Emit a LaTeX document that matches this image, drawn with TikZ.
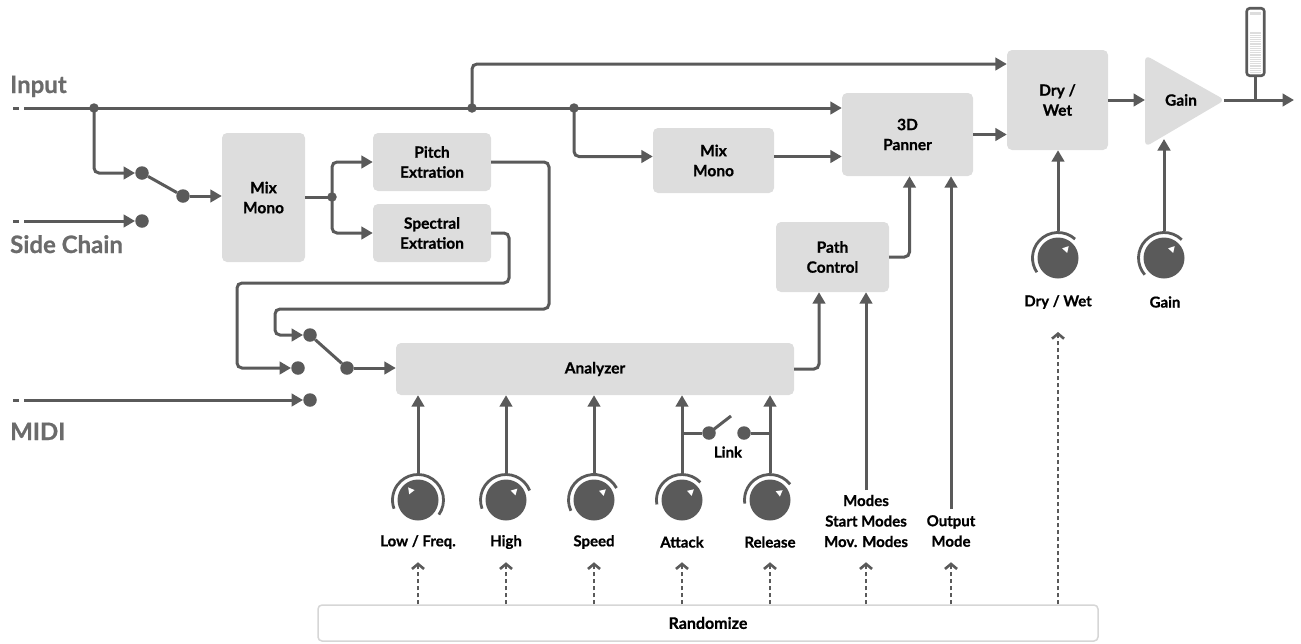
\documentclass[tikz,border=0pt]{standalone}
\usepackage{fontspec}
\setmainfont{Lato}[BoldFeatures={FakeBold=0.8}]
\usetikzlibrary{arrows.meta,calc}
\definecolor{ln}{HTML}{5A5A5A}
\definecolor{bx}{HTML}{DDDDDD}
\definecolor{lbl}{HTML}{6B6B6B}
\definecolor{rb}{HTML}{D6D6D6}
% name, x, y, arc right end (visual deg), arc left end, indicator angle
\newcommand\knobat[6]{%
  \node[knob] (#1) at (#2,#3) {};
  \coordinate (#1-top) at (#2,{#3-27});
  \draw[ln, line width=2.8pt] (#1.center) ++({-(#4)}:25.5) arc[start angle={-(#4)}, end angle={-(#5)}, radius=25.5];
  \fill[white] ($(#1.center)+({-(#6)}:16)$) -- ($(#1.center)+({-(#6)+19}:10.5)$) -- ($(#1.center)+({-(#6)-19}:10.5)$) -- cycle;
}
\begin{document}
\begin{tikzpicture}[x=1pt,y=-1pt,
  box/.style={fill=bx, rounded corners=5pt, inner sep=0pt, font=\bfseries\fontsize{15.5}{20}\selectfont, align=center, text=black},
  wire/.style={draw=ln, line width=3pt, rounded corners=5pt},
  arr/.style={wire, -{Triangle[length=11.5pt,width=12.5pt]}},
  sdot/.style={circle, fill=ln, minimum size=13.5pt, inner sep=0pt},
  jdot/.style={circle, fill=ln, minimum size=9.5pt, inner sep=0pt},
  side/.style={font=\bfseries\fontsize{24}{26}\selectfont, text=lbl, anchor=base west, inner sep=0pt},
  klabel/.style={font=\bfseries\fontsize{15}{20.5}\selectfont, align=center, inner sep=0pt},
  knob/.style={circle, fill=ln, minimum size=41pt, inner sep=0pt},
  rndarr/.style={draw=ln, line width=2.6pt, dash pattern=on 4pt off 3pt, -{Straight Barb[length=5pt,width=12pt]}}
]
\useasboundingbox (0,0) rectangle (1301,643);

% ---------- boxes ----------
\node[box, minimum width=83pt, minimum height=129pt] (mix1) at (263.5,197.5) {Mix\\Mono};
\node[box, minimum width=118pt, minimum height=58pt] (pitch) at (432,162) {Pitch\\Extration};
\node[box, minimum width=118pt, minimum height=58pt] (spec) at (432,233) {Spectral\\Extration};
\node[box, minimum width=398pt, minimum height=52pt] (ana) at (595,369) {Analyzer};
\node[box, minimum width=121pt, minimum height=65pt] (mix2) at (713.5,160.5) {Mix\\Mono};
\node[box, minimum width=131pt, minimum height=83pt] (pan) at (907.5,134.5) {3D\\Panner};
\node[box, minimum width=113pt, minimum height=70pt] (path) at (832.5,257) {Path\\Control};
\node[box, minimum width=101pt, minimum height=100pt] (dw) at (1057.5,100) {Dry /\\Wet};
\fill[bx, rounded corners=6pt] (1145,55) -- (1225,100) -- (1145,147) -- cycle;
\node[box, fill=none] (gain) at (1181,100) {Gain};
\coordinate (gainIn) at (1145,100);
\coordinate (gainOut) at (1224,100);
\node[draw=rb, fill=white, line width=1.5pt, rounded corners=4pt, minimum width=780pt, minimum height=36pt, inner sep=0pt, font=\bfseries\fontsize{16}{18}\selectfont] (rnd) at (708,623) {Randomize};

% ---------- meter ----------
\node[draw=ln, fill=white, line width=2.6pt, rounded corners=3pt, minimum width=17.5pt, minimum height=67.5pt, inner sep=0pt] (meter) at (1255.5,42) {};
\fill[bx] (1250,12) rectangle (1261,14.5);
\foreach \yy in {33,35.2,...,73} \draw[bx, line width=1.1pt] (1250,\yy) -- (1261,\yy);

% ---------- side labels ----------
\node[side] (lin) at (10,93) {Input};
\node[side] (lsc) at (10,253) {Side Chain};
\node[side] (lmidi) at (10,440) {MIDI};
\draw[ln, line width=3pt] (13,108) -- (19,108);
\draw[ln, line width=3pt] (13,221) -- (19,221);
\draw[ln, line width=3pt] (13,400) -- (19,400);

% ---------- coordinates ----------
\coordinate (in0) at (24,108);
\coordinate (sc0) at (24,221);
\coordinate (mi0) at (24,400);
\coordinate (jIn) at (94,108);
\coordinate (jTop) at (472,108);
\coordinate (jMix) at (574,108);
\coordinate (jMid) at (332,197);
\coordinate (p1) at (549,309);
\coordinate (p2) at (275,309);
\coordinate (s1) at (509,283);
\coordinate (s2) at (237,283);
\coordinate (out) at (1294,100);

% ---------- switch dots ----------
\node[sdot] (swA) at (142,173) {};
\node[sdot] (swB) at (183,196) {};
\node[sdot] (swC) at (142,221) {};
\node[sdot] (swD) at (310,335) {};
\node[sdot] (swE) at (298,368) {};
\node[sdot] (swF) at (347,368) {};
\node[sdot] (swG) at (310,400) {};
\node[sdot] (swL1) at (709,433) {};
\node[sdot] (swL2) at (744,433) {};
\coordinate (lever) at (731,416);

% ---------- wires ----------
\draw[arr] (in0) -- (in0 -| pan.west);
\draw[arr] (jIn) |- (swA);
\draw[wire] (swA) -- (swB);
\draw[arr] (swB) -- (swB -| mix1.west);
\draw[arr] (sc0) -- (swC);
\draw[wire] (mix1.east |- jMid) -- (jMid);
\draw[arr] (jMid) |- (pitch.west);
\draw[arr] (jMid) |- (spec.west);
\draw[arr] (pitch.east) -| (p1) -- (p2) |- (swD);
\draw[arr] (spec.east) -| (s1) -- (s2) |- (swE);
\draw[wire] (swD) -- (swF);
\draw[arr] (swF) -- (swF -| ana.west);
\draw[arr] (mi0) -- (swG);
\draw[arr] (ana.east) -| ([xshift=-13.5pt]path.south);
\draw[arr] (path.east) -| ([xshift=2pt]pan.south);
\draw[arr] (jMix) |- ([yshift=4pt]mix2.west);
\draw[arr] ([yshift=4pt]mix2.east) -- ([yshift=4pt]mix2.east -| pan.west);
\draw[arr] (jTop) |- ([yshift=36pt]dw.west);
\draw[arr] (pan.east) -- (pan.east -| dw.west);
\draw[arr] (dw.east) -- (gainIn);
\draw[arr] (gainOut) -- (out);
\draw[wire] (meter.south) -- (meter.south |- gainOut);

% ---------- knobs ----------
\knobat{klow}{418}{500}{-35}{200}{128}
\knobat{khigh}{506}{500}{22}{200}{45}
\knobat{kspeed}{594}{500}{28}{205}{42}
\knobat{katt}{682}{500}{44}{190}{42}
\knobat{krel}{770}{500}{38}{188}{38}
\knobat{kdw}{1058}{258}{48}{214}{48}
\knobat{kgain}{1164}{258}{46}{221}{48}

\draw[arr] (klow-top) -- (klow-top |- ana.south);
\draw[arr] (khigh-top) -- (khigh-top |- ana.south);
\draw[arr] (kspeed-top) -- (kspeed-top |- ana.south);
\draw[arr] (katt-top) -- (katt-top |- ana.south);
\draw[arr] (krel-top) -- (krel-top |- ana.south);
\draw[arr] (kdw-top) -- (kdw-top |- dw.south);
\draw[arr] (kgain-top) -- (1164,139);

% link
\draw[wire] (katt-top |- swL1) -- (swL1);
\draw[wire] (swL1.center) -- (lever);
\draw[wire] (swL2) -- (krel-top |- swL2);
\node[klabel] (llink) at (728,452) {Link};

% modes
\node[klabel] (lmodes) at (866,521) {Modes\\Start Modes\\Mov. Modes};
\node[klabel] (lout) at (951,531) {Output\\Mode};
\coordinate (modesTop) at (866,490);
\coordinate (omTop) at (951,509);
\draw[arr] (modesTop) -- (modesTop |- path.south);
\draw[arr] (omTop) -- (omTop |- pan.south);

% knob labels
\node[klabel] (llow) at (418,542) {Low / Freq.};
\node[klabel] (lhigh) at (506,542) {High};
\node[klabel] (lspeed) at (594,542) {Speed};
\node[klabel] (latt) at (682,542) {Attack};
\node[klabel] (lrel) at (770,542) {Release};
\node[klabel] (ldw) at (1058,302) {Dry / Wet};
\node[klabel] (lgain) at (1165,302) {Gain};

% randomize arrows
\foreach \xx in {418,506,594,682,770,866,951}{
  \draw[rndarr] (rnd.north -| \xx,0) -- ++(0,-42);
}
\draw[rndarr] (rnd.north -| 1058,0) -- (1058,332);

% junction dots
\node[jdot] (djIn) at (jIn) {};
\node[jdot] (djTop) at (jTop) {};
\node[jdot] (djMix) at (jMix) {};
\node[jdot] (djMid) at (jMid) {};
\end{tikzpicture}
\end{document}
